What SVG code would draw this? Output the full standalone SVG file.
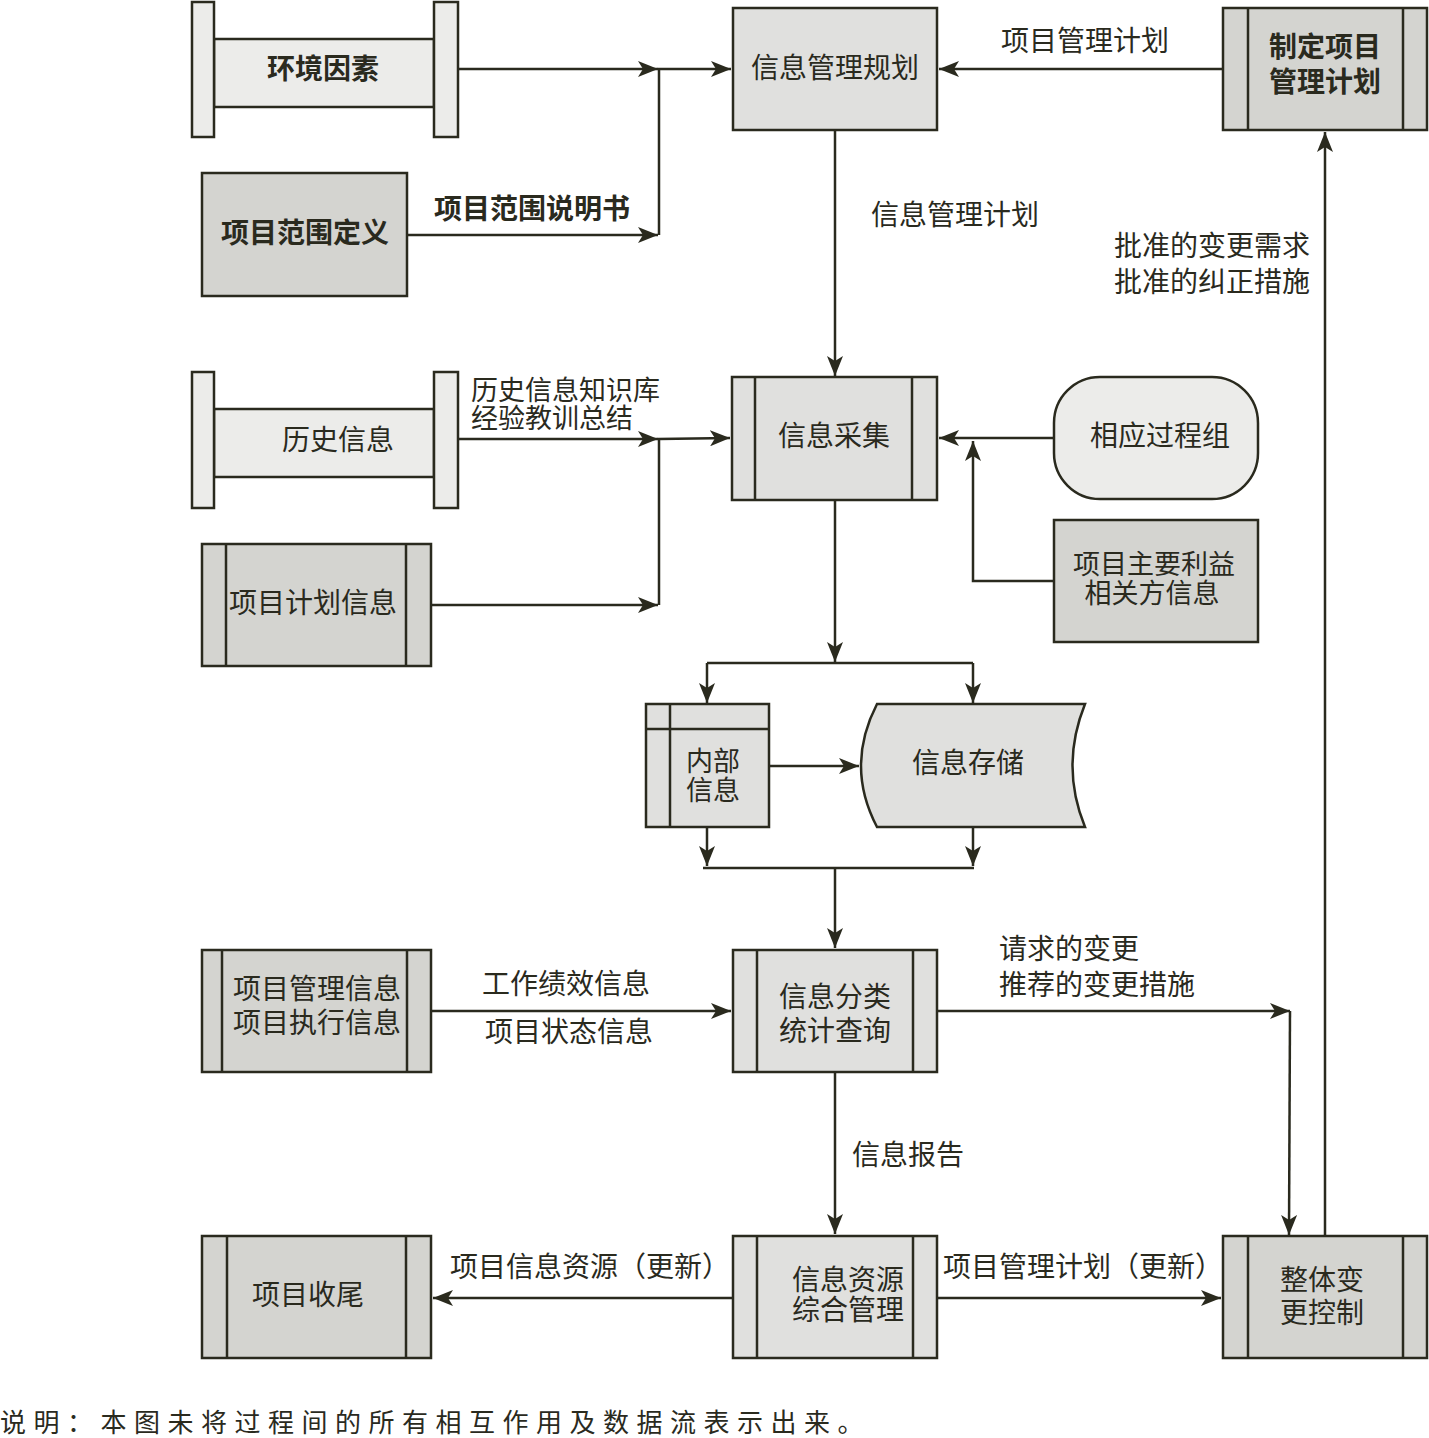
<svg xmlns="http://www.w3.org/2000/svg" width="1429" height="1438" viewBox="0 0 1429 1438">
<style>
.s{stroke:#2a2a1e;stroke-width:2.5}
.l{fill:#ececea}
.m{fill:#e0e0de}
.d{fill:#d4d4d0}
.t{font-family:"Noto Sans CJK SC","Noto Sans",sans-serif;font-size:28px;fill:#2a2a1e;text-anchor:middle}
.t2{font-size:27px}
.ts{text-anchor:start}
.b{font-weight:bold}
.c{fill:none;stroke:#2a2a1e;stroke-width:2.5}
</style>
<defs>
<marker id="ah" markerWidth="22" markerHeight="16" refX="20" refY="8" orient="auto" markerUnits="userSpaceOnUse"><path d="M0,0 L20,8 L0,16 L5,8 z" fill="#2a2a1e"/></marker>
</defs>
<rect width="1429" height="1438" fill="#ffffff"/>

<g id="n-env">
<rect class="s l" x="214" y="39" width="220" height="68"/>
<rect class="s l" x="192" y="2" width="22" height="135"/>
<rect class="s l" x="434" y="2" width="24" height="135"/>
<text class="t b" x="323" y="79">环境因素</text>
</g>
<g id="n-scope">
<rect class="s d" x="202" y="173" width="205" height="123"/>
<text class="t b" x="305" y="243">项目范围定义</text>
</g>
<g id="n-plan">
<rect class="s m" x="733" y="8" width="204" height="122"/>
<text class="t" x="835" y="78">信息管理规划</text>
</g>
<g id="n-pmp">
<rect class="s d" x="1223" y="8" width="204" height="122"/>
<line class="s" x1="1248" y1="8" x2="1248" y2="130"/>
<line class="s" x1="1403" y1="8" x2="1403" y2="130"/>
<text class="t b" x="1325" y="57">制定项目</text>
<text class="t b" x="1325" y="92">管理计划</text>
</g>
<g id="n-hist">
<rect class="s l" x="214" y="409" width="220" height="68"/>
<rect class="s l" x="192" y="372" width="22" height="136"/>
<rect class="s l" x="434" y="372" width="24" height="136"/>
<text class="t" x="338" y="450">历史信息</text>
</g>
<g id="n-pinfo">
<rect class="s d" x="202" y="544" width="229" height="122"/>
<line class="s" x1="226" y1="544" x2="226" y2="666"/>
<line class="s" x1="406" y1="544" x2="406" y2="666"/>
<text class="t" x="313" y="613">项目计划信息</text>
</g>
<g id="n-collect">
<rect class="s m" x="732" y="377" width="205" height="123"/>
<line class="s" x1="755" y1="377" x2="755" y2="500"/>
<line class="s" x1="912" y1="377" x2="912" y2="500"/>
<text class="t" x="834" y="446">信息采集</text>
</g>
<g id="n-proc">
<rect class="s l" x="1054" y="377" width="204" height="122" rx="46" ry="46"/>
<text class="t" x="1160" y="446">相应过程组</text>
</g>
<g id="n-stake">
<rect class="s d" x="1054" y="520" width="204" height="122"/>
<text class="t t2" x="1154" y="574">项目主要利益</text>
<text class="t t2" x="1152" y="603">相关方信息</text>
</g>
<g id="n-internal">
<rect class="s m" x="646" y="704" width="123" height="123"/>
<line class="s" x1="670" y1="704" x2="670" y2="827"/>
<line class="s" x1="646" y1="729" x2="769" y2="729"/>
<text class="t t2" x="713" y="771">内部</text>
<text class="t t2" x="713" y="800">信息</text>
</g>
<g id="n-store">
<path class="s m" d="M877,704 L1085,704 Q1060,766 1085,827 L877,827 Q845,766 877,704 Z"/>
<text class="t" x="968" y="773">信息存储</text>
</g>
<g id="n-pminfo">
<rect class="s d" x="202" y="950" width="229" height="122"/>
<line class="s" x1="222" y1="950" x2="222" y2="1072"/>
<line class="s" x1="407" y1="950" x2="407" y2="1072"/>
<text class="t" x="317" y="999">项目管理信息</text>
<text class="t" x="317" y="1033">项目执行信息</text>
</g>
<g id="n-classify">
<rect class="s m" x="733" y="950" width="204" height="122"/>
<line class="s" x1="757" y1="950" x2="757" y2="1072"/>
<line class="s" x1="913" y1="950" x2="913" y2="1072"/>
<text class="t" x="835" y="1007">信息分类</text>
<text class="t" x="835" y="1041">统计查询</text>
</g>
<g id="n-close">
<rect class="s d" x="202" y="1236" width="229" height="122"/>
<line class="s" x1="227" y1="1236" x2="227" y2="1358"/>
<line class="s" x1="406" y1="1236" x2="406" y2="1358"/>
<text class="t" x="308" y="1305">项目收尾</text>
</g>
<g id="n-resource">
<rect class="s m" x="733" y="1236" width="204" height="122"/>
<line class="s" x1="757" y1="1236" x2="757" y2="1358"/>
<line class="s" x1="913" y1="1236" x2="913" y2="1358"/>
<text class="t" x="848" y="1290">信息资源</text>
<text class="t" x="848" y="1320">综合管理</text>
</g>
<g id="n-icc">
<rect class="s d" x="1223" y="1236" width="204" height="122"/>
<line class="s" x1="1248" y1="1236" x2="1248" y2="1358"/>
<line class="s" x1="1403" y1="1236" x2="1403" y2="1358"/>
<text class="t" x="1322" y="1290">整体变</text>
<text class="t" x="1322" y="1323">更控制</text>
</g>

<g id="connectors">
<line class="c" x1="458" y1="69" x2="658" y2="69" marker-end="url(#ah)"/>
<line class="c" x1="407" y1="235" x2="658" y2="235" marker-end="url(#ah)"/>
<polyline class="c" points="659,235 659,69 731,69" marker-end="url(#ah)"/>
<line class="c" x1="1223" y1="69" x2="939" y2="69" marker-end="url(#ah)"/>
<line class="c" x1="835" y1="130" x2="835" y2="376" marker-end="url(#ah)"/>
<line class="c" x1="1325" y1="1236" x2="1325" y2="132" marker-end="url(#ah)"/>
<line class="c" x1="458" y1="439" x2="658" y2="439" marker-end="url(#ah)"/>
<line class="c" x1="431" y1="605" x2="658" y2="605" marker-end="url(#ah)"/>
<polyline class="c" points="659,605 659,439 730,438" marker-end="url(#ah)"/>
<line class="c" x1="1054" y1="438" x2="939" y2="438" marker-end="url(#ah)"/>
<polyline class="c" points="1054,581 973,581 973,441" marker-end="url(#ah)"/>
<line class="c" x1="835" y1="500" x2="835" y2="662" marker-end="url(#ah)"/>
<line class="c" x1="707" y1="663" x2="973" y2="663"/>
<line class="c" x1="707" y1="663" x2="707" y2="703" marker-end="url(#ah)"/>
<line class="c" x1="973" y1="663" x2="973" y2="703" marker-end="url(#ah)"/>
<line class="c" x1="769" y1="766" x2="859" y2="766" marker-end="url(#ah)"/>
<line class="c" x1="707" y1="827" x2="707" y2="866" marker-end="url(#ah)"/>
<line class="c" x1="973" y1="827" x2="973" y2="866" marker-end="url(#ah)"/>
<line class="c" x1="703" y1="868" x2="974" y2="868"/>
<line class="c" x1="835" y1="868" x2="835" y2="948" marker-end="url(#ah)"/>
<line class="c" x1="431" y1="1011" x2="731" y2="1011" marker-end="url(#ah)"/>
<line class="c" x1="937" y1="1011" x2="1290" y2="1011" marker-end="url(#ah)"/>
<line class="c" x1="1290" y1="1011" x2="1289" y2="1235" marker-end="url(#ah)"/>
<line class="c" x1="835" y1="1072" x2="835" y2="1234" marker-end="url(#ah)"/>
<line class="c" x1="937" y1="1298" x2="1221" y2="1298" marker-end="url(#ah)"/>
<line class="c" x1="733" y1="1298" x2="433" y2="1298" marker-end="url(#ah)"/>
</g>

<g id="labels">
<text class="t b" x="532" y="219">项目范围说明书</text>
<text class="t" x="1085" y="51">项目管理计划</text>
<text class="t" x="955" y="225">信息管理计划</text>
<text class="t" x="1212" y="256">批准的变更需求</text>
<text class="t" x="1212" y="292">批准的纠正措施</text>
<text class="t t2 ts" x="471" y="400">历史信息知识库</text>
<text class="t t2 ts" x="471" y="428">经验教训总结</text>
<text class="t" x="566" y="994">工作绩效信息</text>
<text class="t" x="569" y="1042">项目状态信息</text>
<text class="t ts" x="999" y="959">请求的变更</text>
<text class="t ts" x="999" y="995">推荐的变更措施</text>
<text class="t" x="908" y="1165">信息报告</text>
<text class="t" x="1083" y="1277">项目管理计划（更新）</text>
<text class="t" x="590" y="1277">项目信息资源（更新）</text>
<text class="t ts" x="0" y="1432" style="font-size:26px;letter-spacing:7.5px">说明：本图未将过程间的所有相互作用及数据流表示出来。</text>
</g>
</svg>
